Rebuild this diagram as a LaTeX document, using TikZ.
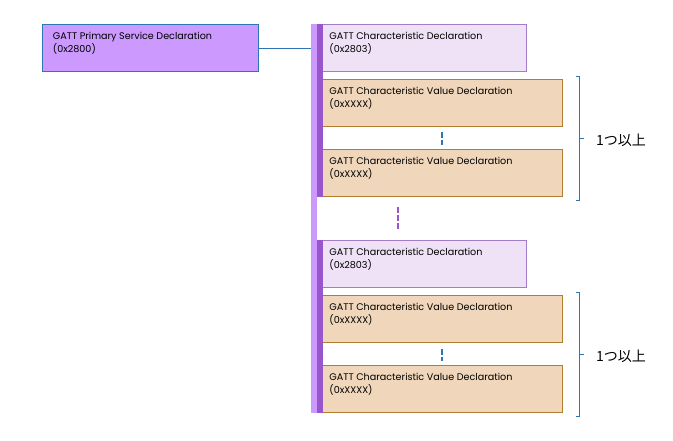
\documentclass[tikz,border=0pt]{standalone}
\usepackage{fontspec}
\setmainfont{Poppins}
\newfontfamily\jpfont{Noto Sans CJK JP}
\usetikzlibrary{positioning,calc}

\definecolor{svcfill}{HTML}{CC99FF}
\definecolor{svcline}{HTML}{2E75B6}
\definecolor{chrfill}{HTML}{EFE2F7}
\definecolor{chrline}{HTML}{A27CC9}
\definecolor{valfill}{HTML}{F0D6BA}
\definecolor{valline}{HTML}{B27D2E}
\definecolor{barlight}{HTML}{CC99FF}
\definecolor{bardark}{HTML}{9955CC}

\newcommand{\gatt}[3]{\parbox[c][32pt][t]{#1}{#2\\#3}}% #1: width, #2: name, #3: uuid
\newcommand{\onemore}[3]{% #1: top node, #2: bottom node, #3: label name
	\draw[brk] ($(#1.north east)+(13,-3)$) -- ++(4,0) coordinate (#3t)
		-- ($(#2.south east)+(17,4)$) coordinate (#3b) -- ++(-4,0);
	\draw[brk] ($(#3t)!0.5!(#3b)$) coordinate (#3m) -- ++(4,0);
	\node[count, right=15pt of #3m, yshift=-2pt] (#3) {1つ以上};
}

\tikzset{
	box/.style={draw, anchor=north west, inner xsep=7pt, inner ysep=7.5pt,
		font=\fontsize{9.6}{13}\selectfont, line width=0.8pt},
	svcbox/.style={box, fill=svcfill, draw=svcline, inner xsep=10.5pt},
	chrbox/.style={box, fill=chrfill, draw=chrline},
	valbox/.style={box, fill=valfill, draw=valline},
	dots/.style={line width=2pt, dash pattern=on 6pt off 2pt},
	brk/.style={draw=svcline, line width=1pt},
	count/.style={font=\jpfont\fontsize{14}{16}\selectfont, inner sep=1pt}
}

\begin{document}
\begin{tikzpicture}[x=1pt,y=-1pt]
	\useasboundingbox (0,0) rectangle (673,440);

	% Service
	\node[svcbox] (svc) at (42,24) {\gatt{195pt}{GATT Primary Service Declaration}{(0x2800)}};

	% First characteristic
	\node[chrbox] (chr1) at (322,24) {\gatt{190pt}{GATT Characteristic Declaration}{(0x2803)}};
	\node[valbox, below=7.2pt of chr1.south west, anchor=north west] (val1) {\gatt{226pt}{GATT Characteristic Value Declaration}{(0xXXXX)}};
	\node[valbox, below=22.2pt of val1.south west, anchor=north west] (val2) {\gatt{226pt}{GATT Characteristic Value Declaration}{(0xXXXX)}};

	% Last characteristic
	\node[chrbox, below=43.2pt of val2.south west, anchor=north west] (chr2) {\gatt{190pt}{GATT Characteristic Declaration}{(0x2803)}};
	\node[valbox, below=7.2pt of chr2.south west, anchor=north west] (val3) {\gatt{226pt}{GATT Characteristic Value Declaration}{(0xXXXX)}};
	\node[valbox, below=22.2pt of val3.south west, anchor=north west] (val4) {\gatt{226pt}{GATT Characteristic Value Declaration}{(0xXXXX)}};

	% Bars
	\fill[barlight] ($(chr1.north west)+(-11,0)$) coordinate (spine) rectangle ($(val4.south west)+(-5,0)$);
	\fill[bardark] ($(chr1.north west)+(-5.5,0)$) rectangle ($(val2.south west)+(0.5,0)$);
	\fill[bardark] ($(chr2.north west)+(-5.5,0)$) rectangle ($(val4.south west)+(0.5,0)$);

	% Link to the service
	\draw[svcline, line width=0.8pt] (svc.east) -- (svc.east -| spine);

	% Dots
	\draw[dots, svcline] ($(val1.south)+(0,5)$) -- ($(val2.north)+(0,-4)$);
	\draw[dots, bardark] ($(val2.south west)+(76,10)$) -- ($(chr2.north west)+(76,-11)$);
	\draw[dots, svcline] ($(val3.south)+(0,6)$) -- ($(val4.north)+(0,-4)$);

	% Brackets
	\onemore{val1}{val2}{n1}
	\onemore{val3}{val4}{n2}
\end{tikzpicture}
\end{document}
